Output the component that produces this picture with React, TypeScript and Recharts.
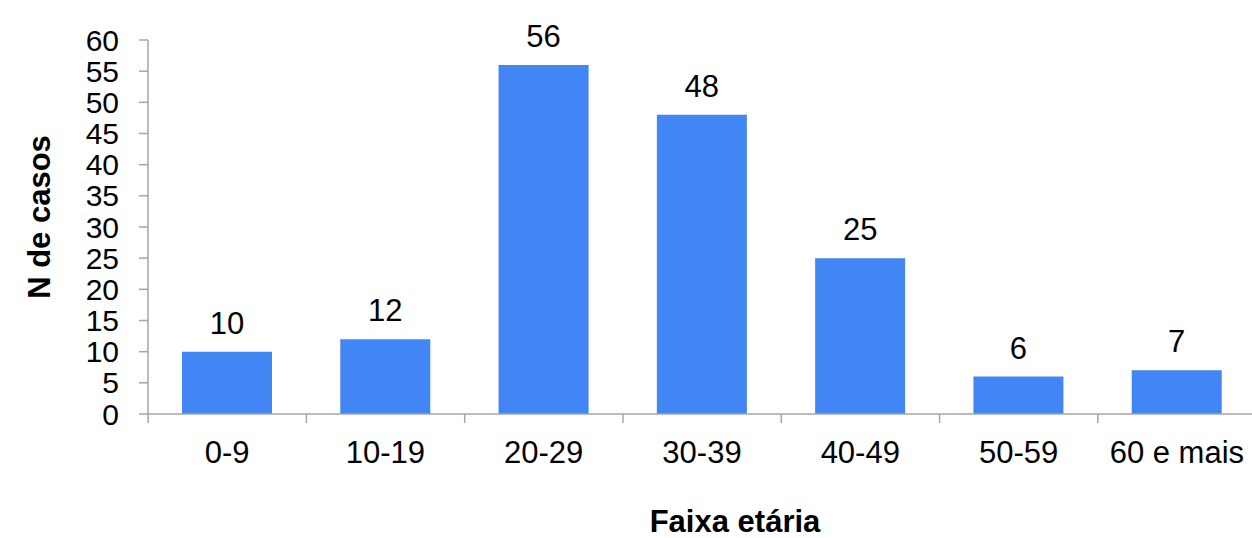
import React from 'react';
import { BarChart, Bar, XAxis, YAxis, LabelList, Label } from 'recharts';

const faixas = ['0-9', '10-19', '20-29', '30-39', '40-49', '50-59', '60 e mais'];
const casos = [10, 12, 56, 48, 25, 6, 7];
const yTicks = [0, 5, 10, 15, 20, 25, 30, 35, 40, 45, 50, 55, 60];

const data = faixas.map((faixa, i) => ({ faixa, casos: casos[i] }));

const font = 'Liberation Sans, Arial, sans-serif';
const axisColor = '#a6a6a6';

// rotated y-axis title, a bit above the plot's middle like the original
const YTitle = ({ viewBox }: any) => {
  const x = viewBox.x + 50;
  const y = viewBox.y + viewBox.height / 2 - 10;
  return (
    <text
      x={x}
      y={y}
      transform={`rotate(-90, ${x}, ${y})`}
      textAnchor="middle"
      style={{ fontSize: 31, fontWeight: 'bold', fill: '#000', fontFamily: font }}
    >
      N de casos
    </text>
  );
};

const App = () => {
  return (
    <div style={{ position: 'absolute', left: 0, top: 0, width: 1252, height: 538, overflow: 'hidden', background: '#fff' }}>
      <BarChart
        width={1260}
        height={538}
        data={data}
        margin={{ top: 40, right: 4, bottom: 0, left: 0 }}
        style={{ fontFamily: font }}
      >
        <XAxis
          dataKey="faixa"
          interval={0}
          stroke={axisColor}
          tickSize={9}
          tickMargin={18}
          tick={{ fill: '#000', fontSize: 31, fontFamily: font }}
          axisLine={{ stroke: axisColor, strokeWidth: 1.5 }}
          tickLine={{ stroke: axisColor, strokeWidth: 1.5, transform: 'translate(-79, 0)' }}
          height={124}
        >
          <Label
            value="Faixa etária"
            position="insideBottom"
            offset={6}
            dx={33}
            style={{ fontSize: 31, fontWeight: 'bold', fill: '#000', fontFamily: font }}
          />
        </XAxis>
        <YAxis
          domain={[0, 60]}
          ticks={yTicks}
          interval={0}
          width={148}
          tickSize={9}
          tickMargin={20}
          tick={{ fill: '#000', fontSize: 30, fontFamily: font }}
          axisLine={{ stroke: axisColor, strokeWidth: 1.5 }}
          tickLine={{ stroke: axisColor, strokeWidth: 1.5 }}
        >
          <Label content={<YTitle />} />
        </YAxis>
        <Bar dataKey="casos" fill="#4285f4" barSize={90} isAnimationActive={false}>
          <LabelList
            dataKey="casos"
            position="top"
            offset={18}
            style={{ fontSize: 31, fill: '#000', fontFamily: font }}
          />
        </Bar>
      </BarChart>
    </div>
  );
};

export default App;
